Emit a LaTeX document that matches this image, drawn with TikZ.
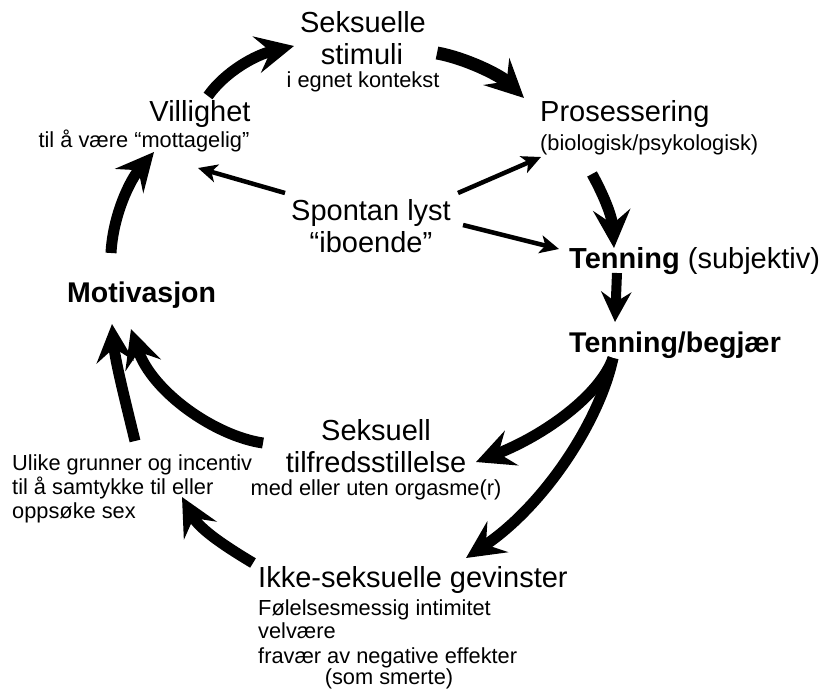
\documentclass[tikz,border=0pt]{standalone}
\usepackage{fontspec}
\setmainfont{Liberation Sans}
\usetikzlibrary{arrows.meta}
\begin{document}
\begin{tikzpicture}[x=1pt,y=-1pt,
  big/.style={font=\fontsize{29}{32}\selectfont, inner sep=0pt},
  bigb/.style={font=\fontsize{28.5}{32}\selectfont\bfseries, inner sep=0pt},
  small/.style={font=\fontsize{21.8}{24}\selectfont, inner sep=0pt},
  fat/.style={line width=11pt, -{Stealth[length=38pt,width=37pt,inset=14pt]}},
  fatsmall/.style={line width=10pt, -{Stealth[length=30pt,width=30pt,inset=10pt]}},
  thinarr/.style={line width=4.5pt, -{Stealth[length=19pt,width=18pt,inset=5pt]}}]
\useasboundingbox (0,0) rectangle (819,690);
% texts
\node[big,anchor=base] (sek1) at (363,33) {Seksuelle};
\node[big,anchor=base] (sek2) at (362,65) {stimuli};
\node[small,anchor=base] (sek3) at (363,88) {i egnet kontekst};
\node[big,anchor=base] (vil1) at (200,122) {Villighet};
\node[small,anchor=base] (vil2) at (144,148) {til å være “mottagelig”};
\node[big,anchor=base west] (pro1) at (540,122) {Prosessering};
\node[small,anchor=base west] (pro2) at (540,150) {(biologisk/psykologisk)};
\node[big,anchor=base] (spo1) at (371,220) {Spontan lyst};
\node[big,anchor=base] (spo2) at (371,252) {“iboende”};
\node[big,anchor=base west] (ten) at (569,268) {\textbf{Tenning} (subjektiv)};
\node[bigb,anchor=base west] (beg) at (569,352) {Tenning/begjær};
\node[bigb,anchor=base west] (mot) at (67,302) {Motivasjon};
\node[big,anchor=base] (til1) at (376,440) {Seksuell};
\node[big,anchor=base] (til2) at (376,472) {tilfredsstillelse};
\node[small,anchor=base] (til3) at (376,495) {med eller uten orgasme(r)};
\node[small,anchor=base west] (uli1) at (12,470) {Ulike grunner og incentiv};
\node[small,anchor=base west] (uli2) at (12,494) {til å samtykke til eller};
\node[small,anchor=base west] (uli3) at (12,518) {oppsøke sex};
\node[big,anchor=base west] (ikk1) at (258,587) {Ikke-seksuelle gevinster};
\node[small,anchor=base west] (ikk2) at (258,615) {Følelsesmessig intimitet};
\node[small,anchor=base west] (ikk3) at (258,638) {velvære};
\node[small,anchor=base west] (ikk4) at (258,663) {fravær av negative effekter};
\node[small,anchor=base] (ikk5) at (389,684) {(som smerte)};
% arrow end points
\coordinate (vilOut) at (208,96);
\coordinate (sekIn) at (294,46);
\coordinate (sekOut) at (437,53);
\coordinate (proIn) at (524,98);
\coordinate (proOut) at (592,174);
\coordinate (tenIn) at (614,248);
\coordinate (tenOut) at (617,273);
\coordinate (begIn) at (615,322);
\coordinate (begOut) at (613,358);
\coordinate (tilIn) at (476,462);
\coordinate (ikkIn) at (466,558);
\coordinate (tilOut) at (263,443);
\coordinate (motInA) at (131,329);
\coordinate (motInB) at (112,324);
\coordinate (uliOut) at (135,441);
\coordinate (motOut) at (111,253);
\coordinate (vilIn) at (154,152);
\coordinate (ikkOut) at (253,563);
\coordinate (uliIn) at (182,497);
\coordinate (spoA) at (285,193);
\coordinate (vilInS) at (198,168);
\coordinate (spoB) at (458,193);
\coordinate (proInS) at (541,157);
\coordinate (spoC) at (463,225);
\coordinate (tenInS) at (559,249);
% thick arrows
\draw[fat] (vilOut) .. controls (225,72) and (255,55) .. (sekIn);
\draw[fat,line width=13pt] (sekOut) .. controls (465,58) and (500,75) .. (proIn);
\draw[fat] (proOut) .. controls (602,192) and (612,215) .. (tenIn);
\draw[fatsmall] (tenOut) -- (begIn);
\draw[fat] (begOut) .. controls (600,395) and (545,435) .. (tilIn);
\draw[fat] (begOut) .. controls (600,420) and (545,505) .. (ikkIn);
\draw[fat] (tilOut) .. controls (215,436) and (152,392) .. (motInA);
\draw[fat] (uliOut) .. controls (125,400) and (115,360) .. (motInB);
\draw[fat] (motOut) .. controls (113,215) and (130,180) .. (vilIn);
\draw[fat] (ikkOut) .. controls (228,548) and (200,530) .. (uliIn);
% thin arrows
\draw[thinarr] (spoA) -- (vilInS);
\draw[thinarr] (spoB) -- (proInS);
\draw[thinarr] (spoC) -- (tenInS);
\end{tikzpicture}
\end{document}
